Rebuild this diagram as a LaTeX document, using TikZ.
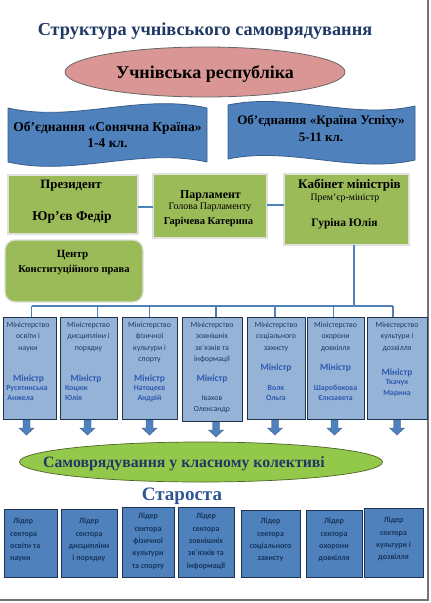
\documentclass[tikz,border=0pt]{standalone}
\usepackage{fontspec}
\setmainfont{Liberation Serif}
\newfontfamily\calfont{Carlito}
\usetikzlibrary{shapes.geometric}
\definecolor{navy}{HTML}{1F3864}
\definecolor{pinkF}{HTML}{D99694}
\definecolor{bannerF}{HTML}{4F81BD}
\definecolor{bannerD}{HTML}{385D8A}
\definecolor{greenF}{HTML}{9BBB59}
\definecolor{minF}{HTML}{95B3D7}
\definecolor{minD}{HTML}{1F3450}
\definecolor{minBlue}{HTML}{2F5AAF}
\definecolor{connC}{HTML}{4F81BD}
\definecolor{limeF}{HTML}{92C94A}
\definecolor{limeD}{HTML}{4F6228}
\definecolor{starC}{HTML}{2F5597}
\definecolor{leadT}{HTML}{17365D}
\begin{document}
\begin{tikzpicture}[x=1pt,y=-1pt,
  box/.style={inner sep=0pt,outer sep=0pt},
  greenbox/.style={box,fill=greenF,draw=black!12,line width=1.2pt},
  minbox/.style={box,fill=minF,draw=minD,line width=0.8pt},
  leadbox/.style={box,fill=bannerF,draw=minD,line width=0.8pt},
  conn/.style={draw=connC,line width=1.5pt},
  txt/.style={inner sep=0pt,align=center},
  sert/.style={txt,font=\bfseries},
  mint/.style={txt,anchor=north,text=navy,font=\calfont\fontsize{7.8}{11.5}\selectfont},
  minm/.style={txt,anchor=base,text=minBlue,font=\calfont\bfseries\fontsize{9.5}{10}\selectfont},
  minn/.style={txt,anchor=north,text=minBlue,font=\calfont\bfseries\fontsize{7.8}{10}\selectfont},
  leadt/.style={txt,anchor=north,text=leadT,font=\calfont\bfseries\fontsize{8}{12.3}\selectfont},
  blockarrow/.style={fill=connC,draw=bannerD,line width=0.4pt}]
\useasboundingbox (0,0) rectangle (431,603);
% page border
\draw[black!55,line width=1.5pt] (428,0) -- (428,600) -- (0,600);

% title
\node[sert,anchor=base,text=navy,font=\bfseries\fontsize{18.3}{21}\selectfont] (title) at (205,35.5) {Структура учнівського самоврядування};

% republic ellipse
\node[ellipse,fill=pinkF,draw=black!60,line width=0.8pt,minimum width=280pt,minimum height=50pt,inner sep=0pt] (rep) at (205,72) {};
\node[sert,anchor=base,font=\bfseries\fontsize{18}{21}\selectfont] (rept) at (205,78) {Учнівська республіка};

% banners
\path[fill=bannerF,draw=bannerD,line width=0.8pt] (8,108) .. controls (74,123) and (140,93) .. (207,108) -- (207,162) .. controls (140,147) and (74,177) .. (8,162) -- cycle;
\path[fill=bannerF,draw=bannerD,line width=0.8pt] (228,105) .. controls (290,92) and (353,120) .. (415,106) -- (415,160) .. controls (353,174) and (290,146) .. (228,159) -- cycle;
\node[sert,anchor=base,font=\bfseries\fontsize{13.5}{15}\selectfont] (ban1a) at (107.5,131.5) {Об’єднання «Сонячна Країна»};
\node[sert,anchor=base,font=\bfseries\fontsize{13.5}{15}\selectfont] (ban1b) at (107.5,147) {1-4 кл.};
\node[sert,anchor=base,font=\bfseries\fontsize{13}{15}\selectfont] (ban2a) at (321,124.5) {Об’єднання «Країна Успіху»};
\node[sert,anchor=base,font=\bfseries\fontsize{13}{15}\selectfont] (ban2b) at (321,141) {5-11 кл.};

% green boxes
\node[greenbox,minimum width=130pt,minimum height=59pt] (pres) at (73,204.5) {};
\node[greenbox,minimum width=114pt,minimum height=64pt] (parl) at (210,206) {};
\node[greenbox,minimum width=125pt,minimum height=71pt] (cab) at (346.5,209.5) {};
\node[greenbox,rounded corners=10pt,minimum width=138pt,minimum height=62pt] (centr) at (74,271) {};

\node[sert,anchor=base,font=\bfseries\fontsize{12.8}{14}\selectfont] (presa) at (71,188.5) {Президент};
\node[sert,anchor=base,font=\bfseries\fontsize{13.5}{16}\selectfont] (presb) at (72,220) {Юр’єв Федір};
\node[sert,anchor=base,font=\bfseries\fontsize{12}{13}\selectfont] (parla) at (210.5,198) {Парламент};
\node[txt,anchor=base,font=\fontsize{10}{11}\selectfont] (parlb) at (210,209) {Голова Парламенту};
\node[sert,anchor=base,font=\bfseries\fontsize{10.5}{12}\selectfont] (parlc) at (208.5,224) {Гарічева Катерина};
\node[sert,anchor=base,font=\bfseries\fontsize{13}{14}\selectfont] (caba) at (349.5,188.5) {Кабінет міністрів};
\node[txt,anchor=base,font=\fontsize{9.8}{11}\selectfont] (cabb) at (345,200.5) {Прем’єр-міністр};
\node[sert,anchor=base,font=\bfseries\fontsize{11.5}{13}\selectfont] (cabc) at (344.5,226) {Гуріна Юлія};
\node[sert,anchor=base,font=\bfseries\fontsize{11}{13}\selectfont] (centra) at (72.5,257) {Центр};
\node[sert,anchor=base,font=\bfseries\fontsize{10.5}{12}\selectfont] (centrb) at (74,272) {Конституційного права};

% connectors between top boxes
\draw[conn] (pres.east |- 0,207) -- (parl.west |- 0,207);
\draw[conn] (parl.east |- 0,205) -- (cab.west |- 0,205);

% ministries
\node[minbox,minimum width=53pt,minimum height=102pt,anchor=north] (m1) at (29.5,317) {};
\node[minbox,minimum width=57pt,minimum height=102pt,anchor=north] (m2) at (88.5,317) {};
\node[minbox,minimum width=55pt,minimum height=102pt,anchor=north] (m3) at (149.5,317) {};
\node[minbox,minimum width=60pt,minimum height=104pt,anchor=north] (m4) at (212,317) {};
\node[minbox,minimum width=58pt,minimum height=102pt,anchor=north] (m5) at (276,317) {};
\node[minbox,minimum width=57pt,minimum height=102pt,anchor=north] (m6) at (335.5,317) {};
\node[minbox,minimum width=60pt,minimum height=102pt,anchor=north] (m7) at (397,317) {};

\coordinate (bus) at (354,306);
\draw[conn] ([xshift=7.5pt]cab.south) -- ([xshift=7.5pt]cab.south |- bus);
\draw[conn] ([xshift=2pt]m1.north |- bus) -- ([xshift=-4pt]m7.north |- bus);
\foreach \n/\dx in {1/2,2/9,3/0,4/4,5/-1,6/-2,7/-4}
  \draw[conn] ([xshift=\dx pt]m\n.north |- bus) -- ([xshift=\dx pt]m\n.north);

% ministry texts
\node[mint] (m1t) at (28,321.5) {Міністерство\\освіти і\\науки};
\node[minm] (m1m) at (28.5,381.5) {Міністр};
\node[minn,align=left] (m1n) at (27,385) {Русятинська\\\hspace*{1pt}Анжела};

\node[mint] (m2t) at (88.5,321.5) {Міністерство\\дисципліни і\\порядку};
\node[minm] (m2m) at (86,381.5) {Міністр};
\node[minn,align=left,anchor=north west] (m2n) at (65,385) {Коцюк\\Юлія};

\node[mint] (m3t) at (149.5,321.5) {Міністерство\\фізичної\\культури і\\спорту};
\node[minm] (m3m) at (149.5,381.5) {Міністр};
\node[minn] (m3n) at (149.5,385) {Натоцеєв\\Андрій};

\node[mint] (m4t) at (212,321.5) {Міністерство\\зовнішніх\\зв’язків та\\інформації};
\node[minm] (m4m) at (212,381.5) {Міністр};
\node[minn,text=navy,font=\calfont\fontsize{7.8}{11}\selectfont] (m4n) at (212,395) {Івахов\\Олександр};

\node[mint] (m5t) at (276,321.5) {Міністерство\\соціального\\захисту};
\node[minm] (m5m) at (276,370.5) {Міністр};
\node[minn] (m5n) at (276,385) {Волк\\Ольга};

\node[mint] (m6t) at (335.5,321.5) {Міністерство\\охорони\\довкілля};
\node[minm] (m6m) at (335.5,370.5) {Міністр};
\node[minn] (m6n) at (335.5,385) {Шаробокова\\Єлизавета};

\node[mint] (m7t) at (397,321.5) {Міністерство\\культури і\\дозвілля};
\node[minm] (m7m) at (397,375.5) {Міністр};
\node[minn,font=\calfont\bfseries\fontsize{7.8}{11.5}\selectfont] (m7n) at (397,379) {Ткачук\\Марина};

% block arrows
\foreach \n/\dx in {1/-3,2/-1,3/0,4/4,5/-1,6/-1,7/0}
  \path[blockarrow] ([xshift=\dx pt,yshift=-1pt]m\n.south) ++(-3.5,0) -- ++(7,0) -- ++(0,8) -- ++(4,0) -- ++(-7.5,7) -- ++(-7.5,-7) -- ++(4,0) -- cycle;

% class self-government
\node[ellipse,fill=limeF,draw=limeD,line width=0.7pt,minimum width=363pt,minimum height=40pt,inner sep=0pt] (klas) at (201,462) {};
\node[sert,anchor=base,text=navy,font=\bfseries\fontsize{15.8}{18}\selectfont] (klast) at (184,467.5) {Самоврядування у класному колективі};
\node[sert,anchor=base,text=starC,font=\bfseries\fontsize{19}{21}\selectfont] (star) at (182,500) {Староста};

% leaders
\node[leadbox,minimum width=53pt,minimum height=68pt,anchor=north] (l1) at (30.5,509) {};
\node[leadbox,minimum width=56pt,minimum height=68pt,anchor=north] (l2) at (89,509) {};
\node[leadbox,minimum width=52pt,minimum height=70pt,anchor=north] (l3) at (148,507) {};
\node[leadbox,minimum width=56pt,minimum height=70pt,anchor=north] (l4) at (206,507) {};
\node[leadbox,minimum width=59pt,minimum height=67pt,anchor=north] (l5) at (270.5,510) {};
\node[leadbox,minimum width=56pt,minimum height=67pt,anchor=north] (l6) at (334,510) {};
\node[leadbox,minimum width=59pt,minimum height=69pt,anchor=north] (l7) at (393.5,508) {};

\node[leadt,align=left,anchor=north west] (l1t) at (10,518) {\hspace*{3pt}Лідер\\сектора\\освіти та\\науки};
\node[leadt] (l2t) at (89,518) {Лідер\\сектора\\дисципліни\\і порядку};
\node[leadt] (l3t) at (148,513) {Лідер\\сектора\\фізичної\\культури\\та спорту};
\node[leadt] (l4t) at (206,513) {Лідер\\сектора\\зовнішніх\\зв’язків та\\інформації};
\node[leadt] (l5t) at (270.5,518) {Лідер\\сектора\\соціального\\захисту};
\node[leadt] (l6t) at (334,518) {Лідер\\сектора\\охорони\\довкілля};
\node[leadt] (l7t) at (393.5,517) {Лідер\\сектора\\культури і\\дозвілля};
\end{tikzpicture}
\end{document}
